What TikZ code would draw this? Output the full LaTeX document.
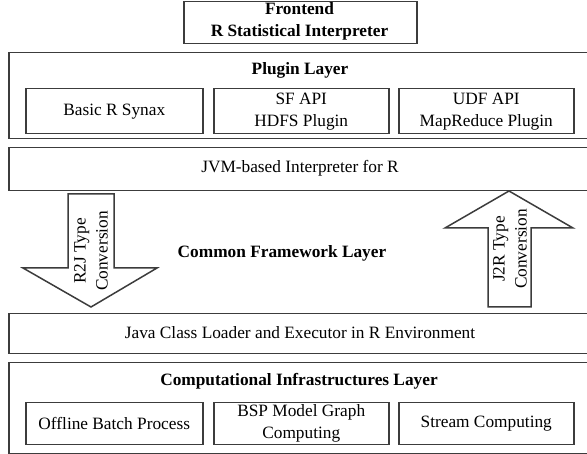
\documentclass[tikz,border=0pt]{standalone}
\usepackage{fontspec}
\setmainfont{Liberation Serif}
\definecolor{edge}{HTML}{3C3C3C}
\begin{document}
\begin{tikzpicture}[x=1pt,y=-1pt,
  box/.style={draw=edge,line width=1.5pt,inner sep=0pt,anchor=north west},
  txt/.style={font=\fontsize{17.3}{22}\selectfont,align=center,inner sep=0pt},
  btxt/.style={txt,font=\fontsize{17.3}{22}\selectfont\bfseries},
  blockarrow/.style={draw=edge,line width=1.5pt,fill=white,line join=miter}]
\useasboundingbox (0,0) rectangle (587,454);
\clip (0,0) rectangle (587,454);
% frontend
\node[box,minimum width=233pt,minimum height=42pt] (front) at (183,1) {};
\node[btxt] (fronttxt) at (299.5,21.5) {Frontend\\R Statistical Interpreter};
% plugin layer
\node[box,minimum width=584pt,minimum height=86pt] (plugin) at (8,52) {};
\node[btxt] (plugintxt) at (300,70) {Plugin Layer};
\node[box,minimum width=177pt,minimum height=45pt] (basic) at (25,88) {};
\node[txt] at (basic.center) {Basic R Synax};
\node[box,minimum width=175pt,minimum height=45pt] (sf) at (213,88) {};
\node[txt] at (sf.center) {SF API\\HDFS Plugin};
\node[box,minimum width=175pt,minimum height=45pt] (udf) at (398,88) {};
\node[txt] at (udf.center) {UDF API\\MapReduce Plugin};
% JVM
\node[box,minimum width=584pt,minimum height=43pt] (jvm) at (8,147) {};
\node[txt] at (300,168.5) {JVM-based Interpreter for R};
% arrows
\draw[blockarrow] (68,194) -- (114,194) -- (114,268) -- (157,268) -- (91,307) -- (23,268) -- (68,268) -- cycle;
\node[txt,rotate=90] (r2j) at (91,251) {R2J Type\\Conversion};
\draw[blockarrow] (509,191) -- (573,228) -- (531,228) -- (531,307) -- (488,307) -- (488,228) -- (445,228) -- cycle;
\node[txt,rotate=90] (j2r) at (510,249) {J2R Type\\Conversion};
\node[btxt] (common) at (282,253) {Common Framework Layer};
% Java loader
\node[box,minimum width=584pt,minimum height=40pt] (java) at (8,313) {};
\node[txt] at (300,333) {Java Class Loader and Executor in R Environment};
% computational
\node[box,minimum width=584pt,minimum height=91pt] (comp) at (8,362) {};
\node[btxt] (comptxt) at (299,381) {Computational Infrastructures Layer};
\node[box,minimum width=177pt,minimum height=42pt] (offline) at (25,402) {};
\node[txt] at (offline.center) {Offline Batch Process};
\node[box,minimum width=175pt,minimum height=42pt] (bsp) at (213,402) {};
\node[txt] at (bsp.center) {BSP Model Graph\\Computing};
\node[box,minimum width=175pt,minimum height=42pt] (stream) at (398,402) {};
\node[txt] at (stream.center) {Stream Computing};
\end{tikzpicture}
\end{document}
